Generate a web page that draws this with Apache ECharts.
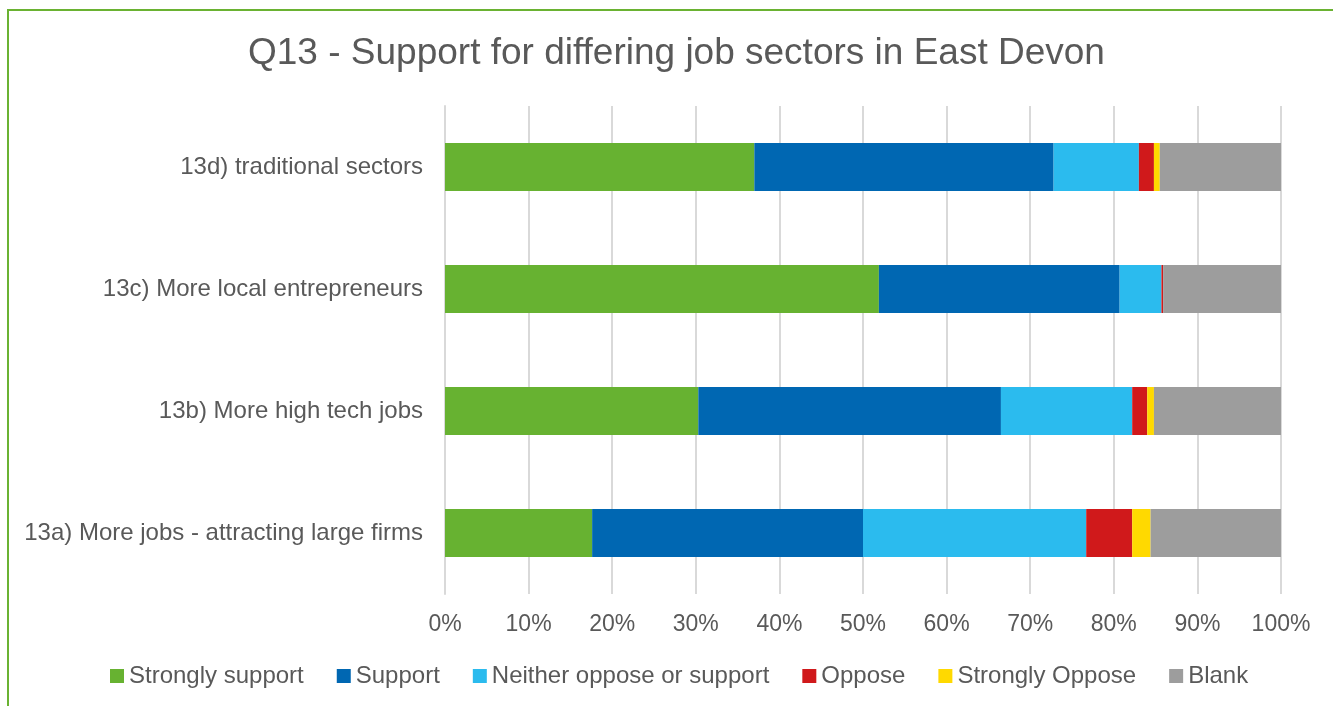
<!DOCTYPE html>
<html>
<head>
<meta charset="utf-8">
<script src="https://cdn.jsdelivr.net/npm/echarts@6/dist/echarts.min.js"></script>
<style>
html,body{margin:0;padding:0;background:#fff;}
#frame{position:absolute;left:7px;top:9px;width:1340px;height:710px;border-top:2px solid #6AB232;border-left:2px solid #6AB232;box-sizing:border-box;}
#chart{position:absolute;left:0;top:0;width:1333px;height:706px;}
</style>
</head>
<body>
<div id="frame"></div>
<div id="chart"></div>
<script>
const categories = ["13a) More jobs - attracting large firms", "13b) More high tech jobs", "13c) More local entrepreneurs", "13d) traditional sectors"];
const seriesNames = ["Strongly support", "Support", "Neither oppose or support", "Oppose", "Strongly Oppose", "Blank"];
const stronglySupport = [17.6, 30.3, 51.9, 37.0];
const support = [32.4, 36.2, 28.8, 35.8];
const neither = [26.7, 15.7, 5.0, 10.2];
const oppose = [5.5, 1.8, 0.2, 1.8];
const stronglyOppose = [2.2, 0.8, 0.0, 0.7];
const blank = [15.6, 15.2, 14.1, 14.5];
const tickLabels = ["0%", "10%", "20%", "30%", "40%", "50%", "60%", "70%", "80%", "90%", "100%"];
const colors = ["#67B231", "#0067B2", "#2BBBEE", "#D0191B", "#FFD900", "#9D9D9D"];

const values = [stronglySupport, support, neither, oppose, stronglyOppose, blank];
const font = "'Liberation Sans', Arial, sans-serif";
const chart = echarts.init(document.getElementById('chart'));
chart.setOption({
  animation: false,
  color: colors,
  title: {
    text: "Q13 - Support for differing job sectors in East Devon",
    left: 243, top: 30,
    textStyle: {fontFamily: font, fontSize: 37, fontWeight: 'normal', color: '#595959'}
  },
  legend: {
    bottom: 13, left: 105,
    itemWidth: 14, itemHeight: 14, itemGap: 33,
    icon: 'rect',
    textStyle: {fontFamily: font, fontSize: 24, color: '#595959'},
    data: seriesNames
  },
  grid: {left: 445, right: 52, top: 106, bottom: 112, containLabel: false},
  xAxis: {
    type: 'value', min: 0, max: 100, interval: 10,
    axisLabel: {fontFamily: font, fontSize: 23, color: '#595959', margin: 19,
      formatter: function(v){ return tickLabels[Math.round(v/10)]; }},
    splitLine: {lineStyle: {color: '#D9D9D9', width: 2}},
    axisLine: {show: false}, axisTick: {show: false}
  },
  yAxis: {
    type: 'category', data: categories,
    axisLabel: {fontFamily: font, fontSize: 24, color: '#595959', margin: 22},
    axisLine: {show: true, lineStyle: {color: '#D9D9D9', width: 2}},
    axisTick: {show: false}
  },
  series: seriesNames.map((n, i) => ({
    name: n, type: 'bar', stack: 'total', data: values[i],
    barWidth: 48,
    itemStyle: {color: colors[i]}
  }))
});
</script>
</body>
</html>
